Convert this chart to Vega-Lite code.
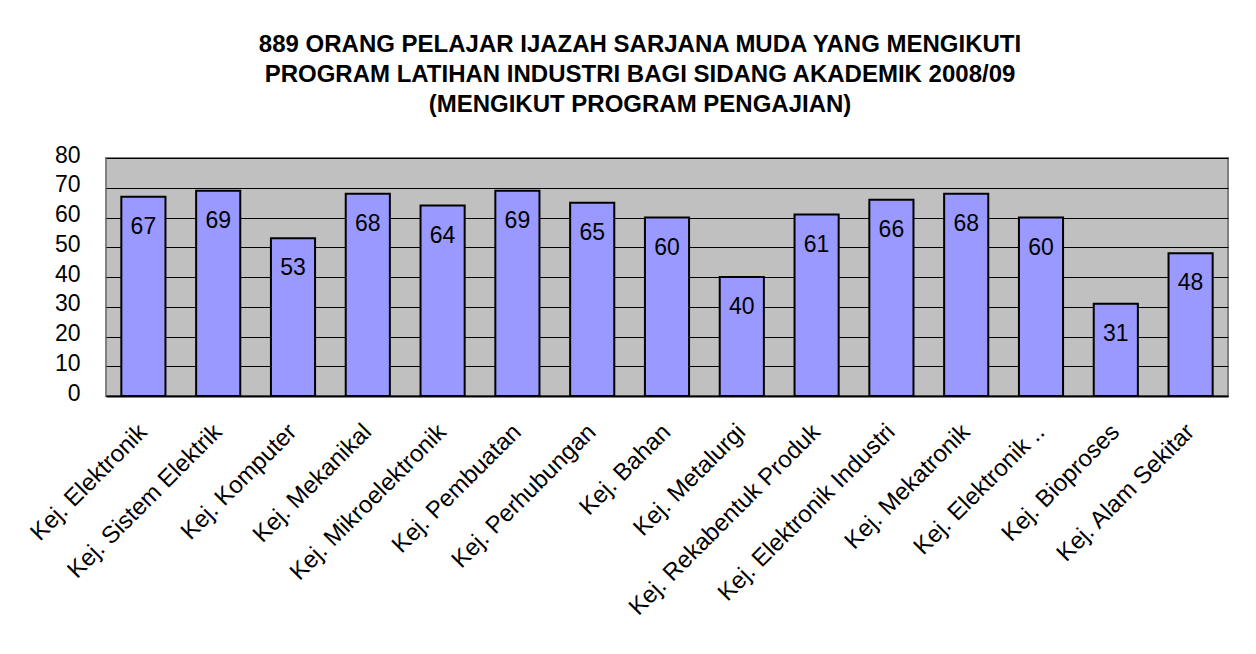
{
  "$schema": "https://vega.github.io/schema/vega-lite/v6.json",
  "width": 1122,
  "height": 238,
  "autosize": {"type": "none"},
  "padding": {"left": 106, "top": 158, "right": 28, "bottom": 258},
  "background": "white",
  "title": {
    "text": ["889 ORANG PELAJAR IJAZAH SARJANA MUDA YANG MENGIKUTI", "PROGRAM LATIHAN INDUSTRI BAGI SIDANG AKADEMIK 2008/09", "(MENGIKUT PROGRAM PENGAJIAN)"],
    "anchor": "middle",
    "frame": "group",
    "dx": -27,
    "offset": 27,
    "font": "Liberation Sans",
    "fontSize": 24,
    "fontWeight": "bold",
    "lineHeight": 30,
    "color": "#000000"
  },
  "data": {
    "values": [
      {"program": "Kej. Elektronik", "pelajar": 67},
      {"program": "Kej. Sistem Elektrik", "pelajar": 69},
      {"program": "Kej. Komputer", "pelajar": 53},
      {"program": "Kej. Mekanikal", "pelajar": 68},
      {"program": "Kej. Mikroelektronik", "pelajar": 64},
      {"program": "Kej. Pembuatan", "pelajar": 69},
      {"program": "Kej. Perhubungan", "pelajar": 65},
      {"program": "Kej. Bahan", "pelajar": 60},
      {"program": "Kej. Metalurgi", "pelajar": 40},
      {"program": "Kej. Rekabentuk Produk", "pelajar": 61},
      {"program": "Kej. Elektronik Industri", "pelajar": 66},
      {"program": "Kej. Mekatronik", "pelajar": 68},
      {"program": "Kej. Elektronik ..", "pelajar": 60},
      {"program": "Kej. Bioproses", "pelajar": 31},
      {"program": "Kej. Alam Sekitar", "pelajar": 48}
    ]
  },
  "encoding": {
    "x": {
      "field": "program",
      "type": "nominal",
      "sort": null,
      "title": null,
      "scale": {"paddingInner": 0.41, "paddingOuter": 0.205},
      "axis": {
        "labelAngle": -45,
        "labelAlign": "right",
        "labelBaseline": "middle",
        "labelFont": "Liberation Sans",
        "labelFontSize": 24,
        "labelColor": "#000000",
        "labelPadding": 32,
        "labelLimit": 400,
        "ticks": false,
        "domain": true,
        "domainColor": "#000000",
        "domainWidth": 2,
        "grid": false
      }
    },
    "y": {
      "field": "pelajar",
      "type": "quantitative",
      "title": null,
      "scale": {"domain": [0, 80], "nice": false},
      "axis": {
        "values": [0, 10, 20, 30, 40, 50, 60, 70, 80],
        "labelFont": "Liberation Sans",
        "labelFontSize": 23,
        "labelColor": "#000000",
        "labelPadding": 26,
        "labelOffset": -3,
        "ticks": false,
        "domain": false,
        "grid": true,
        "gridColor": "#000000",
        "gridWidth": 1,
        "gridOpacity": 1
      }
    }
  },
  "layer": [
    {
      "mark": {"type": "bar", "fill": "#9999FF", "stroke": "#000000", "strokeWidth": 2}
    },
    {
      "mark": {"type": "text", "baseline": "middle", "dy": 30, "font": "Liberation Sans", "fontSize": 23, "color": "#000000"},
      "encoding": {"text": {"field": "pelajar", "type": "quantitative"}}
    }
  ],
  "config": {
    "view": {"fill": "#C0C0C0", "stroke": "#808080", "strokeWidth": 2}
  }
}
